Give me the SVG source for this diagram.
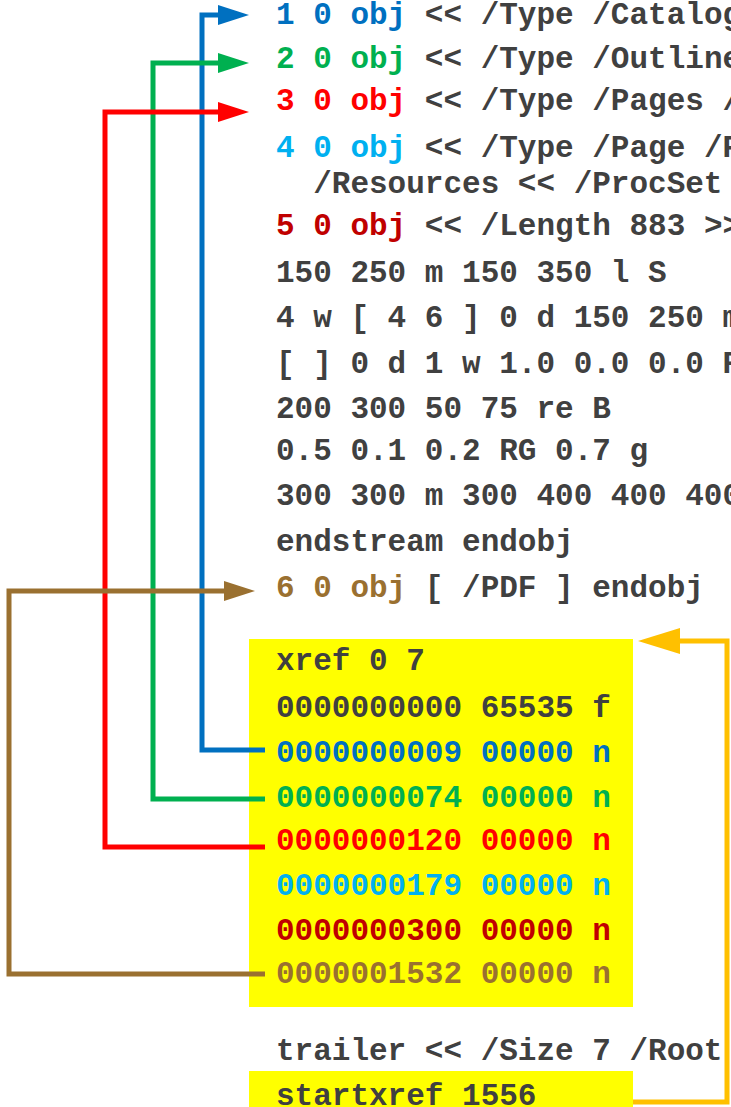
<svg xmlns="http://www.w3.org/2000/svg" width="731" height="1107" viewBox="0 0 731 1107">
<style>
text{font-family:"Liberation Mono","Courier New",monospace;font-weight:bold;font-size:31px;fill:#404040;white-space:pre}
.c1{fill:#0070C0}.c2{fill:#00B050}.c3{fill:#FF0000}.c4{fill:#00B0F0}.c5{fill:#C00000}.c6{fill:#9A7030}
.box{fill:#FFFF00}
.ln{fill:none;stroke-width:5;stroke-linejoin:miter}
</style>
<defs>
<marker id="aBlue" markerUnits="userSpaceOnUse" markerWidth="31" markerHeight="20" refX="0" refY="10" orient="auto"><path d="M0,0 L31,10 L0,20 z" fill="#0070C0"/></marker>
<marker id="aGreen" markerUnits="userSpaceOnUse" markerWidth="31" markerHeight="20" refX="0" refY="10" orient="auto"><path d="M0,0 L31,10 L0,20 z" fill="#00B050"/></marker>
<marker id="aRed" markerUnits="userSpaceOnUse" markerWidth="31" markerHeight="20" refX="0" refY="10" orient="auto"><path d="M0,0 L31,10 L0,20 z" fill="#FF0000"/></marker>
<marker id="aBrown" markerUnits="userSpaceOnUse" markerWidth="31" markerHeight="20" refX="0" refY="10" orient="auto"><path d="M0,0 L31,10 L0,20 z" fill="#9A7030"/></marker>
<marker id="aOrange" markerUnits="userSpaceOnUse" markerWidth="42" markerHeight="26" refX="0" refY="13" orient="auto"><path d="M0,0 L42,13 L0,26 z" fill="#FFC000"/></marker>
</defs>
<rect width="731" height="1107" fill="#FFFFFF"/>
<g id="xref-box"><rect class="box" x="249" y="639" width="384" height="368"/></g>
<g id="startxref-box"><rect class="box" x="249" y="1071" width="384" height="36"/></g>
<g id="obj1"><text x="276" y="24"><tspan class="c1">1 0 obj</tspan> &lt;&lt; /Type /Catalog</text></g>
<g id="obj2"><text x="276" y="68"><tspan class="c2">2 0 obj</tspan> &lt;&lt; /Type /Outline</text></g>
<g id="obj3"><text x="276" y="110"><tspan class="c3">3 0 obj</tspan> &lt;&lt; /Type /Pages /</text></g>
<g id="obj4"><text x="276" y="157"><tspan class="c4">4 0 obj</tspan> &lt;&lt; /Type /Page /P</text><text x="276" y="193">  /Resources &lt;&lt; /ProcSet</text></g>
<g id="obj5">
<text x="276" y="235"><tspan class="c5">5 0 obj</tspan> &lt;&lt; /Length 883 &gt;&gt;</text>
<text x="276" y="282">150 250 m 150 350 l S</text>
<text x="276" y="327">4 w [ 4 6 ] 0 d 150 250 m</text>
<text x="276" y="373">[ ] 0 d 1 w 1.0 0.0 0.0 R</text>
<text x="276" y="418">200 300 50 75 re B</text>
<text x="276" y="460">0.5 0.1 0.2 RG 0.7 g</text>
<text x="276" y="505">300 300 m 300 400 400 400</text>
<text x="276" y="551">endstream endobj</text>
</g>
<g id="obj6"><text x="276" y="597"><tspan class="c6">6 0 obj</tspan> [ /PDF ] endobj</text></g>
<g id="xref">
<text x="276" y="670">xref 0 7</text>
<text x="276" y="717">0000000000 65535 f</text>
<text x="276" y="762" class="c1">0000000009 00000 n</text>
<text x="276" y="807" class="c2">0000000074 00000 n</text>
<text x="276" y="850" class="c3">0000000120 00000 n</text>
<text x="276" y="895" class="c4">0000000179 00000 n</text>
<text x="276" y="940" class="c5">0000000300 00000 n</text>
<text x="276" y="983" class="c6">0000001532 00000 n</text>
</g>
<g id="trailer"><text x="276" y="1060">trailer &lt;&lt; /Size 7 /Root</text></g>
<g id="startxref"><text x="276" y="1105">startxref 1556</text></g>
<g id="connectors">
<path class="ln" stroke="#0070C0" d="M265,750 H202 V15 H218" marker-end="url(#aBlue)"/>
<path class="ln" stroke="#00B050" d="M265,799 H153 V63 H218" marker-end="url(#aGreen)"/>
<path class="ln" stroke="#FF0000" d="M265,847 H105 V112 H218" marker-end="url(#aRed)"/>
<path class="ln" stroke="#9A7030" d="M265,974 H9 V591 H224" marker-end="url(#aBrown)"/>
<path class="ln" stroke="#FFC000" d="M633,1102 H727 V641 H680" marker-end="url(#aOrange)"/>
</g>
</svg>
